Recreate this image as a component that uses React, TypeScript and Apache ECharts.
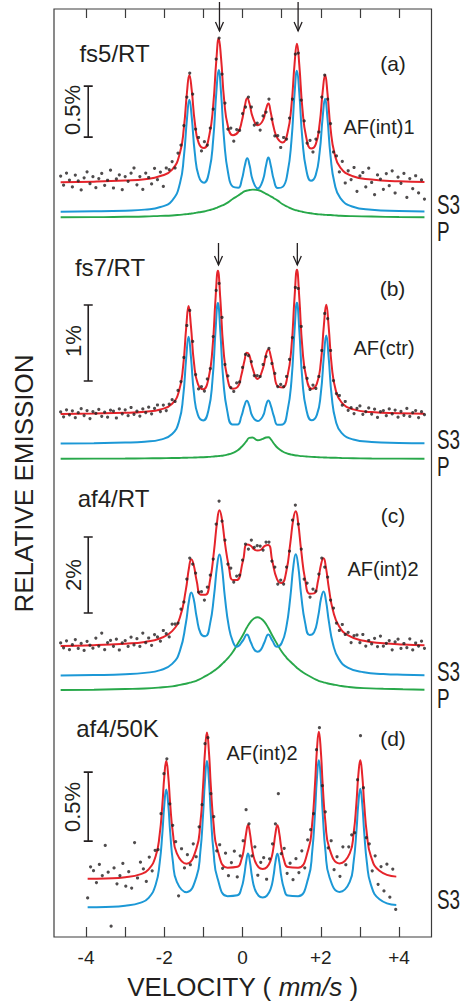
import React, { useEffect, useRef } from "react";
import * as echarts from "echarts";

// ---------------- Panel (a) fs5/RT : AF(int)1 ----------------
const velA = [-4.65, -3.8, -3.0, -2.5, -2.1, -1.8, -1.6, -1.5, -1.42, -1.36, -1.30, -1.22, -1.12, -0.985, -0.85, -0.75, -0.67, -0.61, -0.55, -0.47, -0.37, -0.245, -0.11, -0.02, 0.06, 0.12, 0.18, 0.26, 0.39, 0.52, 0.60, 0.66, 0.72, 0.80, 0.90, 1.025, 1.15, 1.25, 1.33, 1.39, 1.45, 1.53, 1.63, 1.75, 1.87, 1.97, 2.05, 2.11, 2.17, 2.25, 2.35, 2.5, 2.8, 3.3, 4.0, 4.65];
const fitA = [0.008, 0.013, 0.024, 0.037, 0.068, 0.131, 0.297, 0.543, 0.892, 1.060, 0.912, 0.593, 0.391, 0.343, 0.468, 0.764, 1.205, 1.416, 1.227, 0.813, 0.550, 0.468, 0.501, 0.605, 0.759, 0.830, 0.774, 0.646, 0.566, 0.614, 0.724, 0.779, 0.694, 0.539, 0.434, 0.398, 0.492, 0.759, 1.171, 1.365, 1.160, 0.730, 0.443, 0.338, 0.379, 0.580, 0.903, 1.058, 0.884, 0.534, 0.291, 0.150, 0.069, 0.034, 0.017, 0.010];
const s3A = [0.005, 0.008, 0.015, 0.025, 0.050, 0.114, 0.284, 0.545, 0.920, 1.101, 0.935, 0.580, 0.352, 0.289, 0.407, 0.713, 1.176, 1.393, 1.173, 0.704, 0.387, 0.249, 0.240, 0.318, 0.460, 0.528, 0.459, 0.315, 0.233, 0.315, 0.458, 0.535, 0.461, 0.318, 0.237, 0.248, 0.386, 0.701, 1.166, 1.386, 1.171, 0.713, 0.413, 0.308, 0.363, 0.586, 0.940, 1.111, 0.923, 0.546, 0.285, 0.138, 0.056, 0.024, 0.012, 0.007];
const pA = [0.003, 0.004, 0.008, 0.011, 0.017, 0.021, 0.027, 0.031, 0.034, 0.037, 0.040, 0.045, 0.052, 0.060, 0.073, 0.083, 0.095, 0.104, 0.114, 0.127, 0.149, 0.184, 0.216, 0.240, 0.259, 0.265, 0.270, 0.274, 0.270, 0.250, 0.233, 0.221, 0.208, 0.190, 0.166, 0.130, 0.106, 0.087, 0.075, 0.070, 0.064, 0.057, 0.049, 0.042, 0.035, 0.031, 0.029, 0.027, 0.026, 0.025, 0.022, 0.018, 0.014, 0.010, 0.005, 0.003];
const ptsA = [
  0.068, -0.021, 0.097, 0.029, -0.039, 0.078, 0.021, -0.068, 0.051, 0.110,
  -0.007, 0.062, -0.046, 0.044, 0.094, -0.023, 0.027, 0.126, -0.049, 0.040,
  0.080, -0.066, 0.063, 0.016, 0.096, 0.147, -0.018, 0.063, -0.063, 0.097,
  0.054, -0.009, 0.144, 0.032, 0.107, -0.034, 0.147, 0.132, 0.210, 0.147,
  0.294, 0.372, 0.563, 0.843, 1.078, 0.872, 0.529, 0.446, 0.314, 0.405,
  0.372, 0.539, 0.725, 1.215, 1.421, 1.068, 0.784, 0.529, 0.539, 0.410,
  0.524, 0.515, 0.681, 0.745, 0.843, 0.745, 0.568, 0.588, 0.519, 0.657,
  0.695, 0.823, 0.627, 0.461, 0.464, 0.348, 0.446, 0.431, 0.637, 0.823,
  1.264, 1.274, 0.813, 0.608, 0.392, 0.417, 0.304, 0.431, 0.500, 0.843,
  1.058, 0.823, 0.583, 0.304, 0.265, 0.108, 0.211, 0.000, 0.120, 0.034,
  0.152, -0.082, 0.069, 0.103, -0.038, 0.145, 0.005, -0.115, 0.079, 0.038,
  -0.062, 0.093, -0.026, 0.119, -0.098, 0.057, -0.003, 0.094, -0.142, 0.043,
  -0.056, 0.071, -0.097, 0.030, -0.157,
];

// ---------------- Panel (b) fs7/RT : AF(ctr) ----------------
const velB = [-4.65, -3.8, -3.0, -2.5, -2.1, -1.8, -1.62, -1.52, -1.44, -1.38, -1.32, -1.24, -1.14, -1.005, -0.87, -0.77, -0.69, -0.63, -0.57, -0.49, -0.39, -0.26, -0.13, -0.03, 0.05, 0.11, 0.17, 0.25, 0.385, 0.52, 0.60, 0.66, 0.72, 0.80, 0.90, 1.025, 1.15, 1.25, 1.33, 1.39, 1.45, 1.53, 1.63, 1.765, 1.90, 2.00, 2.08, 2.14, 2.20, 2.28, 2.38, 2.53, 2.83, 3.3, 4.0, 4.65];
const fitB = [0.008, 0.013, 0.022, 0.037, 0.066, 0.142, 0.318, 0.629, 1.146, 1.427, 1.166, 0.672, 0.400, 0.332, 0.474, 0.862, 1.530, 1.890, 1.534, 0.871, 0.488, 0.340, 0.360, 0.521, 0.709, 0.811, 0.784, 0.621, 0.468, 0.604, 0.790, 0.855, 0.770, 0.569, 0.370, 0.355, 0.509, 0.888, 1.548, 1.903, 1.542, 0.874, 0.486, 0.340, 0.407, 0.683, 1.180, 1.445, 1.162, 0.638, 0.324, 0.159, 0.067, 0.032, 0.016, 0.010];
const s3B = [0.005, 0.009, 0.016, 0.028, 0.055, 0.129, 0.304, 0.613, 1.129, 1.408, 1.148, 0.653, 0.378, 0.308, 0.446, 0.830, 1.495, 1.852, 1.492, 0.824, 0.430, 0.255, 0.255, 0.363, 0.505, 0.567, 0.505, 0.365, 0.300, 0.365, 0.507, 0.569, 0.507, 0.365, 0.250, 0.255, 0.437, 0.829, 1.498, 1.857, 1.500, 0.836, 0.451, 0.311, 0.382, 0.661, 1.159, 1.425, 1.144, 0.621, 0.308, 0.145, 0.057, 0.025, 0.012, 0.008];
const pB = [0.003, 0.005, 0.007, 0.009, 0.011, 0.013, 0.014, 0.016, 0.017, 0.018, 0.018, 0.020, 0.022, 0.024, 0.028, 0.032, 0.036, 0.038, 0.042, 0.047, 0.058, 0.079, 0.112, 0.158, 0.204, 0.243, 0.279, 0.283, 0.247, 0.266, 0.283, 0.287, 0.263, 0.204, 0.145, 0.099, 0.072, 0.059, 0.050, 0.046, 0.042, 0.038, 0.034, 0.029, 0.025, 0.022, 0.021, 0.020, 0.018, 0.017, 0.016, 0.014, 0.011, 0.007, 0.005, 0.003];
const ptsB = [
  0.034, -0.031, 0.062, -0.004, 0.049, -0.042, 0.024, 0.077, -0.014, 0.052,
  -0.053, 0.039, 0.014, 0.067, -0.024, 0.030, -0.036, 0.057, 0.045, -0.046,
  0.073, 0.009, 0.062, -0.015, 0.092, 0.002, 0.043, -0.020, 0.074, 0.025,
  0.096, 0.009, 0.080, 0.125, 0.039, 0.124, 0.051, 0.137, 0.195, 0.171,
  0.316, 0.434, 0.750, 1.171, 1.369, 0.961, 0.526, 0.336, 0.368, 0.309,
  0.467, 0.605, 1.026, 1.632, 1.724, 1.277, 0.658, 0.507, 0.355, 0.303,
  0.416, 0.428, 0.619, 0.790, 0.776, 0.697, 0.513, 0.513, 0.500, 0.658,
  0.763, 0.869, 0.671, 0.540, 0.368, 0.395, 0.368, 0.500, 0.724, 1.013,
  1.671, 1.658, 1.158, 0.619, 0.474, 0.329, 0.388, 0.342, 0.500, 0.842,
  1.329, 1.263, 0.842, 0.447, 0.276, 0.250, 0.122, 0.171, 0.055, 0.089,
  0.012, 0.082, 0.113, 0.003, 0.038, 0.087, 0.006, 0.070, -0.038, 0.039,
  0.051, -0.016, 0.074, 0.007, 0.059, -0.035, 0.042, -0.011, 0.080, -0.026,
  0.026, 0.051, -0.041, 0.037, -0.003,
];

// ---------------- Panel (c) af4/RT : AF(int)2 ----------------
const velC = [-4.65, -3.8, -3.0, -2.5, -2.1, -1.8, -1.6, -1.45, -1.37, -1.31, -1.25, -1.17, -1.07, -0.95, -0.83, -0.73, -0.65, -0.59, -0.53, -0.45, -0.35, -0.25, -0.15, 0.01, 0.11, 0.21, 0.30, 0.385, 0.47, 0.56, 0.66, 0.76, 0.88, 1.00, 1.12, 1.22, 1.30, 1.36, 1.42, 1.50, 1.60, 1.715, 1.83, 1.93, 2.01, 2.07, 2.13, 2.21, 2.31, 2.46, 2.7, 3.1, 3.6, 4.1, 4.65];
const fitC = [0.029, 0.047, 0.087, 0.134, 0.231, 0.418, 0.784, 1.504, 2.078, 2.309, 2.167, 1.725, 1.378, 1.375, 1.762, 2.525, 3.300, 3.600, 3.380, 2.735, 2.112, 1.762, 1.762, 2.262, 2.696, 2.664, 2.567, 2.538, 2.559, 2.656, 2.685, 2.262, 1.788, 1.683, 1.999, 2.730, 3.380, 3.570, 3.280, 2.527, 1.773, 1.402, 1.412, 1.746, 2.193, 2.335, 2.101, 1.523, 0.970, 0.560, 0.305, 0.163, 0.100, 0.066, 0.045];
const s3C = [0.017, 0.028, 0.050, 0.087, 0.160, 0.323, 0.671, 1.394, 1.978, 2.204, 2.036, 1.539, 1.123, 1.049, 1.383, 2.112, 2.914, 3.203, 2.896, 2.067, 1.297, 0.915, 0.773, 0.939, 1.094, 0.894, 0.700, 0.642, 0.700, 0.894, 1.097, 0.939, 0.773, 0.873, 1.299, 2.070, 2.901, 3.206, 2.922, 2.122, 1.402, 1.081, 1.160, 1.562, 2.062, 2.230, 2.001, 1.415, 0.855, 0.455, 0.221, 0.105, 0.058, 0.037, 0.026];
const pC = [0.013, 0.021, 0.039, 0.053, 0.079, 0.110, 0.147, 0.179, 0.200, 0.216, 0.234, 0.263, 0.310, 0.379, 0.447, 0.518, 0.579, 0.631, 0.692, 0.771, 0.881, 1.013, 1.184, 1.460, 1.657, 1.815, 1.901, 1.928, 1.894, 1.807, 1.644, 1.447, 1.231, 1.026, 0.868, 0.763, 0.684, 0.626, 0.571, 0.510, 0.442, 0.376, 0.310, 0.263, 0.234, 0.216, 0.200, 0.179, 0.158, 0.129, 0.095, 0.063, 0.045, 0.032, 0.020];
const ptsC = [
  0.108, -0.022, 0.163, -0.071, 0.062, 0.195, -0.039, 0.093, -0.089, 0.150,
  0.046, -0.032, 0.234, 0.026, 0.368, -0.072, 0.116, 0.172, 0.018, 0.206,
  -0.079, 0.109, 0.166, 0.014, 0.258, 0.055, 0.218, 0.016, 0.366, 0.113,
  0.237, 0.045, 0.326, 0.266, 0.153, 0.434, 0.350, 0.266, 0.602, 0.605,
  0.631, 0.999, 1.184, 1.788, 2.341, 2.183, 1.946, 1.447, 1.457, 1.236,
  1.578, 1.894, 2.314, 3.235, 3.840, 3.314, 2.814, 2.183, 2.078, 1.710,
  1.867, 1.894, 2.288, 2.709, 2.577, 2.814, 2.619, 2.669, 2.656, 2.551,
  2.762, 2.762, 2.262, 2.104, 1.657, 1.762, 1.657, 2.104, 2.525, 3.340,
  3.735, 3.235, 2.577, 1.788, 1.683, 1.315, 1.525, 1.473, 1.920, 2.341,
  2.104, 1.841, 1.236, 1.026, 0.631, 0.434, 0.592, 0.329, 0.384, 0.118,
  0.297, 0.316, 0.113, 0.329, 0.024, 0.171, 0.082, 0.229, 0.011, 0.289,
  0.021, 0.095, 0.168, -0.074, 0.132, 0.205, -0.037, 0.092, -0.018, 0.216,
  -0.076, 0.105, 0.024, 0.153, -0.034,
];

// ---------------- Panel (d) af4/50K : AF(int)2 ----------------
// single-component fit: the total fit has the same shape as the S3 sextet
const velD = [-3.96, -3.5, -3.0, -2.6, -2.4, -2.22, -2.12, -2.05, -2.0, -1.95, -1.9, -1.85, -1.78, -1.68, -1.43, -1.18, -1.08, -1.01, -0.96, -0.91, -0.86, -0.81, -0.74, -0.64, -0.385, -0.13, -0.03, 0.04, 0.09, 0.14, 0.19, 0.24, 0.31, 0.41, 0.515, 0.62, 0.72, 0.79, 0.84, 0.89, 0.94, 0.99, 1.06, 1.16, 1.42, 1.68, 1.78, 1.85, 1.90, 1.95, 2.00, 2.05, 2.12, 2.22, 2.48, 2.74, 2.84, 2.91, 2.96, 3.01, 3.06, 3.11, 3.18, 3.28, 3.5, 3.93];
const fitD = [0.0068, 0.0102, 0.0189, 0.0413, 0.0754, 0.172, 0.326, 0.545, 0.750, 0.861, 0.754, 0.551, 0.337, 0.192, 0.117, 0.226, 0.407, 0.676, 0.929, 1.067, 0.929, 0.676, 0.405, 0.218, 0.088, 0.094, 0.145, 0.234, 0.334, 0.397, 0.335, 0.233, 0.142, 0.091, 0.079, 0.091, 0.142, 0.233, 0.335, 0.396, 0.335, 0.233, 0.143, 0.092, 0.088, 0.219, 0.409, 0.682, 0.937, 1.072, 0.937, 0.683, 0.412, 0.227, 0.119, 0.191, 0.339, 0.555, 0.760, 0.867, 0.756, 0.549, 0.328, 0.172, 0.065, 0.023];
const s3D = fitD;
const ptsD = [
  -0.131, 0.094, 0.066, -0.020, 0.111, 0.031, 0.249, 0.055, -0.336, 0.086,
  -0.029, 0.030, 0.119, -0.046, 0.059, -0.060, 0.270, 0.013, 0.128, 0.079,
  -0.012, 0.165, 0.065, 0.214, 0.218, 0.479, 0.769, 0.877, 0.551, 0.395,
  0.276, -0.116, 0.225, 0.086, 0.182, 0.109, 0.261, 0.167, 0.384, 0.544,
  0.986, 1.030, 0.624, 0.457, 0.210, 0.254, 0.083, 0.193, 0.030, 0.125,
  0.207, 0.021, 0.174, 0.283, 0.508, 0.406, 0.174, 0.239, 0.033, 0.127,
  0.160, 0.004, 0.152, 0.261, 0.406, 0.624, 0.189, 0.228, 0.047, 0.120,
  0.001, 0.153, 0.052, 0.210, 0.087, 0.290, 0.363, 0.479, 0.943, 1.102,
  0.682, 0.493, 0.232, 0.283, 0.073, 0.167, 0.025, 0.239, 0.109, 0.239,
  0.326, 0.341, 0.725, 1.044, 0.667, 0.305, 0.261, 0.065, 0.174, -0.033,
  0.096, -0.081, 0.113, -0.126, 0.078, -0.215,
];

// channel grids of the measured points (mm/s)
const chStartABC = -4.65;
const chStartD = -3.96;
const chStep = 0.075;

// vertical offsets of the sub-spectra (in % relative emission)
const s3Offsets = [-0.286, -0.386, -0.768, -0.2065];
const pOffsets = [-0.339, -0.586, -1.145];

// scale bars (% relative emission)
const barLengths = [0.5, 1, 2, 0.5];
const barLabels = ["0.5%", "1%", "2%", "0.5%"];

// texts
const sampleNames = ["fs5/RT", "fs7/RT", "af4/RT", "af4/50K"];
const panelTags = ["(a)", "(b)", "(c)", "(d)"];
const modelNames = ["AF(int)1", "AF(ctr)", "AF(int)2", "AF(int)2"];

const tickValues = [-4, -3, -2, -1, 0, 1, 2, 3, 4];
const labelValues = [-4, -2, 0, 2, 4];
const arrowVel = [
  [-0.59, 1.42],
  [-0.615, 1.4],
];

// ---------------- layout / styles ----------------
const W = 464;
const H = 1005;
const FRAME = { left: 54, right: 431.5, top: 9, bottom: 937 };
const X_MIN = -4.82;
const X_MAX = 4.83;
const zeroPx = [183, 414.5, 647, 879.8];
const pxPerPct = [102, 76, 38, 138];
const barBase = [0.45, 0.44, 0.895, 0.28];
const BAR_X = -3.945;
const BAR_CAP = 0.115;

const FONT = '"Liberation Sans", Arial, Helvetica, sans-serif';
const INK = "#231f20";
const RED = "#e5242b";
const BLUE = "#1c98d6";
const GREEN = "#28a84a";

const panels = [
  { vel: velA, fit: fitA, s3: s3A, p: pA, pts: ptsA, ch0: chStartABC },
  { vel: velB, fit: fitB, s3: s3B, p: pB, pts: ptsB, ch0: chStartABC },
  { vel: velC, fit: fitC, s3: s3C, p: pC, pts: ptsC, ch0: chStartABC },
  { vel: velD, fit: fitD, s3: s3D, p: null as number[] | null, pts: ptsD, ch0: chStartD },
];

function text(t: string, x: number, y: number, size: number, extra: any = {}) {
  const { rotation, scaleX, ...styleExtra } = extra;
  return {
    type: "text",
    x,
    y,
    rotation: rotation || 0,
    scaleX: scaleX || 1,
    silent: true,
    z: 100,
    style: {
      text: t,
      fill: INK,
      fontSize: size,
      fontFamily: FONT,
      font: `${size}px ${FONT}`,
      align: "center",
      verticalAlign: "middle",
      textAlign: "center",
      textVerticalAlign: "middle",
      ...styleExtra,
    },
  };
}

function buildOption() {
  const yAxis = panels.map((_, i) => ({
    type: "value",
    gridIndex: 0,
    show: false,
    min: -(FRAME.bottom - zeroPx[i]) / pxPerPct[i],
    max: (zeroPx[i] - FRAME.top) / pxPerPct[i],
  }));

  const series: any[] = [];
  panels.forEach((pn, i) => {
    const lineBase = {
      type: "line",
      xAxisIndex: 0,
      yAxisIndex: i,
      showSymbol: false,
      symbol: "none",
      smooth: 0.5,
      silent: true,
    };
    if (pn.p) {
      const pOff = pOffsets[i];
      series.push({
        ...lineBase,
        name: "P",
        data: pn.vel.map((v, k) => [v, (pn.p as number[])[k] + pOff]),
        lineStyle: { color: GREEN, width: 1.9 },
        z: 2,
      });
    }
    const sOff = s3Offsets[i];
    series.push({
      ...lineBase,
      name: "S3",
      data: pn.vel.map((v, k) => [v, pn.s3[k] + sOff]),
      lineStyle: { color: BLUE, width: 2 },
      z: 2,
    });
    series.push({
      ...lineBase,
      name: "fit",
      data: pn.vel.map((v, k) => [v, pn.fit[k]]),
      lineStyle: { color: RED, width: 2 },
      z: 3,
    });
    series.push({
      type: "scatter",
      xAxisIndex: 0,
      yAxisIndex: i,
      silent: true,
      symbol: "circle",
      symbolSize: 3.2,
      itemStyle: { color: INK },
      data: pn.pts.map((y, k) => [pn.ch0 + k * chStep, y]),
      z: 4,
    });
    const b0 = barBase[i];
    const b1 = b0 + barLengths[i];
    series.push({
      type: "line",
      xAxisIndex: 0,
      yAxisIndex: i,
      silent: true,
      showSymbol: false,
      symbol: "none",
      data: [
        [BAR_X - BAR_CAP, b1],
        [BAR_X + BAR_CAP, b1],
        [BAR_X, b1],
        [BAR_X, b0],
        [BAR_X - BAR_CAP, b0],
        [BAR_X + BAR_CAP, b0],
      ],
      lineStyle: { color: INK, width: 1.6, join: "miter" },
      z: 5,
    });
  });

  const tickStyle = { color: "#3c3c3c", width: 1.2 };
  return {
    animation: false,
    backgroundColor: "#ffffff",
    grid: {
      left: FRAME.left,
      top: FRAME.top,
      width: FRAME.right - FRAME.left,
      height: FRAME.bottom - FRAME.top,
      show: true,
      borderColor: "#3c3c3c",
      borderWidth: 1.2,
      backgroundColor: "transparent",
    },
    xAxis: [
      {
        type: "value",
        gridIndex: 0,
        position: "bottom",
        min: X_MIN,
        max: X_MAX,
        axisLine: { show: false, onZero: false },
        splitLine: { show: false },
        axisTick: { show: true, inside: true, length: 10, customValues: tickValues, lineStyle: tickStyle },
        axisLabel: {
          show: true,
          customValues: labelValues,
          margin: 11,
          fontSize: 19,
          fontFamily: FONT,
          color: INK,
          formatter: (v: number) => (v > 0 ? "+" + v : String(v)),
        },
      },
      {
        type: "value",
        gridIndex: 0,
        position: "top",
        min: X_MIN,
        max: X_MAX,
        axisLine: { show: false, onZero: false },
        splitLine: { show: false },
        axisTick: { show: true, inside: true, length: 9, customValues: tickValues, lineStyle: tickStyle },
        axisLabel: { show: false },
      },
    ],
    yAxis,
    series,
  };
}

export default function App() {
  const ref = useRef<HTMLDivElement | null>(null);
  useEffect(() => {
    if (!ref.current) return;
    const chart = echarts.init(ref.current, undefined, { renderer: "svg", width: W, height: H });
    chart.setOption(buildOption() as any);

    const graphic: any[] = [];
    // arrows marking the inner lines of panels (a) and (b)
    const arrowY = [
      [2, 31],
      [243, 265],
    ];
    arrowVel.forEach((vs, j) => {
      vs.forEach((v) => {
        const x = chart.convertToPixel({ xAxisIndex: 0 } as any, v) as unknown as number;
        const [yTop, yTip] = arrowY[j];
        graphic.push({
          type: "line",
          silent: true,
          z: 100,
          shape: { x1: x, y1: yTop, x2: x, y2: yTip },
          style: { stroke: INK, lineWidth: 1.3 },
        });
        graphic.push({
          type: "polyline",
          silent: true,
          z: 100,
          shape: { points: [[x - 4, yTip - 9], [x, yTip], [x + 4, yTip - 9]] },
          style: { stroke: INK, lineWidth: 1.3, fill: null },
        });
      });
    });

    const namePos = [
      [114.5, 53],
      [110, 267],
      [113.5, 498],
      [117.5, 728],
    ];
    const tagPos = [
      [393, 63],
      [392.5, 288],
      [393, 515],
      [393, 738],
    ];
    const modelPos = [
      [379, 127],
      [384, 348],
      [383, 569],
      [262, 753],
    ];
    const barLabelPos = [
      [72.5, 110],
      [73, 341],
      [73, 575],
      [72.5, 807],
    ];
    for (let i = 0; i < 4; i++) {
      graphic.push(text(sampleNames[i], namePos[i][0], namePos[i][1], 24));
      graphic.push(text(panelTags[i], tagPos[i][0], tagPos[i][1], 21));
      graphic.push(text(modelNames[i], modelPos[i][0], modelPos[i][1], 20));
      graphic.push(text(barLabels[i], barLabelPos[i][0], barLabelPos[i][1], 22, { rotation: Math.PI / 2 }));
    }
    // component labels at the right edge (condensed look via horizontal scale)
    const compLabels: [string, number][] = [
      ["S3", 205],
      ["P", 232],
      ["S3", 440],
      ["P", 467],
      ["S3", 672],
      ["P", 699],
      ["S3", 900],
    ];
    compLabels.forEach(([t, y]) => {
      graphic.push(
        text(t, 437, y, 27, { align: "left", textAlign: "left", scaleX: 0.7, lineHeight: 22 })
      );
    });
    // axis titles
    graphic.push(text("RELATIVE EMISSION", 24, 483.5, 26, { rotation: Math.PI / 2 }));
    graphic.push({
      type: "text",
      x: 242.5,
      y: 987,
      silent: true,
      z: 100,
      style: {
        text: "{n|VELOCITY ( }{i|mm/s}{n| )}",
        align: "center",
        verticalAlign: "middle",
        textAlign: "center",
        textVerticalAlign: "middle",
        fill: INK,
        fontSize: 26,
        fontFamily: FONT,
        rich: {
          n: { fontSize: 26, fontFamily: FONT, fill: INK, color: INK },
          i: { fontSize: 26, fontFamily: FONT, fontStyle: "italic", fill: INK, color: INK },
        },
      },
    });

    chart.setOption({ graphic } as any);
    return () => {
      chart.dispose();
    };
  }, []);

  return (
    <div
      ref={ref}
      style={{ position: "fixed", left: 0, top: 0, width: W, height: H, background: "#fff" }}
    />
  );
}
